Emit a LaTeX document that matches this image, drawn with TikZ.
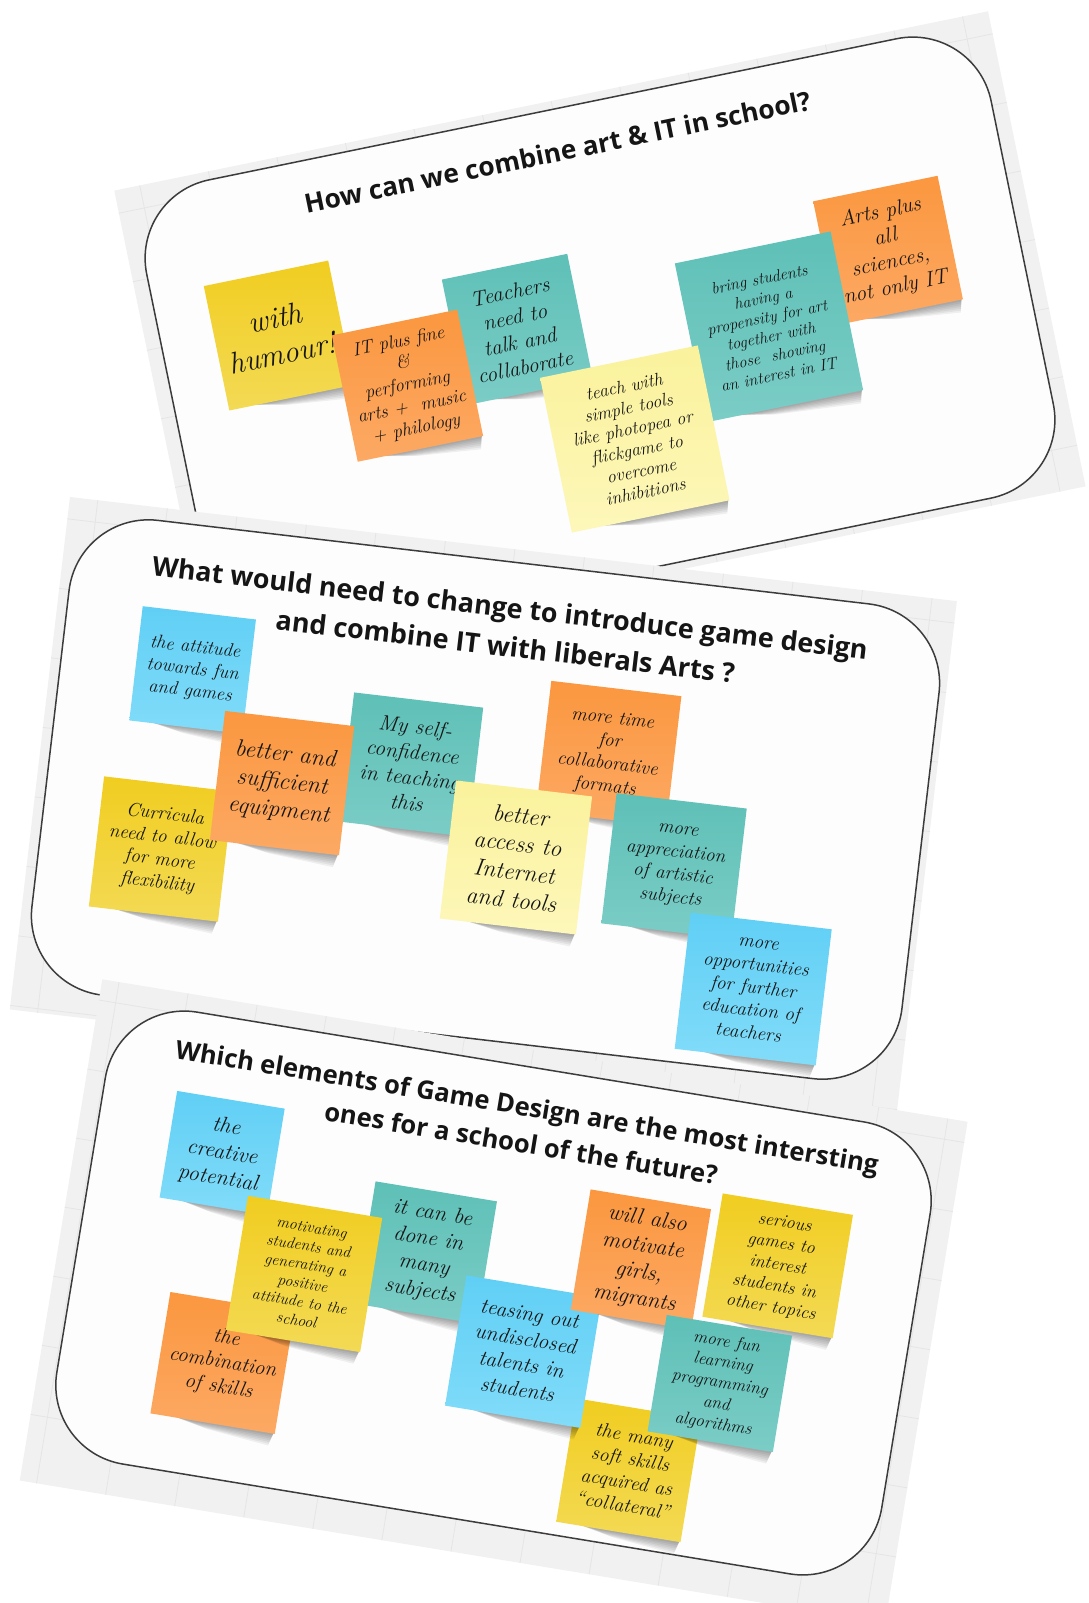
\documentclass[tikz,border=0pt]{standalone}
\usepackage{fontspec}
\usepackage{graphicx}
\newfontfamily\titlefont{Open Sans}

\definecolor{sheetgray}{HTML}{F1F1F1}
\definecolor{gridgray}{HTML}{E5E5E5}
\definecolor{boardfill}{HTML}{FDFDFD}
\definecolor{boardline}{HTML}{3C3C3C}
\definecolor{inkcol}{HTML}{151515}
\definecolor{yelA}{HTML}{F1CD20}
\definecolor{yelB}{HTML}{F3DA55}
\definecolor{orgA}{HTML}{FB973F}
\definecolor{orgB}{HTML}{FCA964}
\definecolor{tealA}{HTML}{5EC0B7}
\definecolor{tealB}{HTML}{7BCDC6}
\definecolor{bluA}{HTML}{60CFF5}
\definecolor{bluB}{HTML}{82DCF9}
\definecolor{lyelA}{HTML}{FAF29B}
\definecolor{lyelB}{HTML}{FDF7BA}

% handwriting-like note text (size given in px of the sheet)
\newcommand\notefont[1]{\fontsize{\fpeval{1.13*#1}}{\fpeval{1.34*#1}}\selectfont\itshape\addfontfeatures{FakeBold=0.6}}

% soft shadow under the lower edge of a note: u v w h
\newcommand\noteshadow[4]{%
  \foreach \k in {1,...,7}{%
    \fill[black, opacity=0.055]
      ({#1-0.32*#3},{#2+0.5*#4-1}) --
      ({#1+0.5*#3-1},{#2+0.5*#4-1}) --
      ({#1+0.5*#3-2-0.4*\k},{#2+0.5*#4+1.8*\k}) --
      ({#1-0.2*#3+3*\k},{#2+0.5*#4+0.9*\k}) -- cycle;
  }%
}

% sticky note: name, u, v, width, height, pad style, font size, text
\newcommand\sticky[8]{%
  \noteshadow{#2}{#3}{#4}{#5}%
  \node[notebox, #6, minimum width=#4pt, minimum height=#5pt,
        font=\notefont{#7}] (#1) at (#2,#3) {#8};%
}

\begin{document}
\begin{tikzpicture}[x=1pt, y=-1pt,
  notebox/.style={rectangle, inner sep=0pt, align=center, text=inkcol},
  yellowpad/.style={top color=yelA, bottom color=yelB},
  orangepad/.style={top color=orgA, bottom color=orgB},
  tealpad/.style={top color=tealA, bottom color=tealB},
  bluepad/.style={top color=bluA, bottom color=bluB},
  paleyellowpad/.style={top color=lyelA, bottom color=lyelB},
  boardframe/.style={fill=boardfill, draw=boardline, line width=1.5pt, rounded corners=80pt},
  sheetgrid/.style={draw=gridgray, line width=0.8pt},
  titletext/.style={text=inkcol, align=center, inner sep=0pt}]

\useasboundingbox (0,0) rectangle (1088,1603);
\fill[white] (0,0) rectangle (1088,1603);

% ---------- board 1 ----------
\begin{scope}[shift={(600,339)}, rotate=11.6, transform shape]
  \fill[sheetgray] (-446,-243) rectangle (446,242);
  \foreach \g in {-420,-350,...,420} \draw[sheetgrid] (\g,-243) -- (\g,242);
  \foreach \g in {-220,-150,...,200} \draw[sheetgrid] (-446,\g) -- (446,\g);
  \draw[boardframe] (-431,-234.5) rectangle (431,234.5);
  \node[titletext, font=\titlefont\bfseries\fontsize{24}{30}\selectfont] (title1) at (-4,-192)
    {\resizebox{516pt}{!}{How can we combine art \& IT in school?}};
  \sticky{p1humour}{-314}{-68}{127}{127}{yellowpad}{27}{with\\humour!}
  \sticky{p1teachers}{-79}{-26}{128}{128}{tealpad}{19}{Teachers\\need to\\talk and\\collaborate}
  \sticky{p1itplus}{-198}{7}{128}{129}{orangepad}{16.5}{IT plus fine\\\&\\performing\\arts + \ music\\+ philology}
  \sticky{p1arts}{300}{-29}{127}{126}{orangepad}{19}{Arts plus\\all\\sciences,\\not only IT}
  \sticky{p1bring}{168}{22}{159}{162}{tealpad}{14.5}{bring students\\having a\\propensity for art\\together with\\those \ showing\\an interest in IT}
  \sticky{p1teach}{14}{105}{161}{158}{paleyellowpad}{16}{teach with\\simple tools\\like photopea or\\flickgame to\\overcome\\inhibitions}
\end{scope}

% ---------- board 2 ----------
\begin{scope}[shift={(485.5,799.5)}, rotate=-6.7, transform shape]
  \fill[sheetgray] (-448,-252) rectangle (445,264);
  \foreach \g in {-420,-350,...,420} \draw[sheetgrid] (\g,-252) -- (\g,264);
  \foreach \g in {-230,-160,...,260} \draw[sheetgrid] (-448,\g) -- (445,\g);
  \draw[boardframe] (-438,-239) rectangle (438,239);
  \node[titletext, font=\titlefont\bfseries\fontsize{26}{39}\selectfont] (title2) at (2,-174)
    {\resizebox{720pt}{!}{What would need to change to introduce game design}\\
     \resizebox{462pt}{!}{and combine IT with liberals Arts ?}};
  \sticky{p2attitude}{-306}{-94.5}{114}{115}{bluepad}{16.5}{the attitude\\towards fun\\and games}
  \sticky{p2curricula}{-316.5}{87}{130}{131}{yellowpad}{17}{Curricula\\need to allow\\for more\\flexibility}
  \sticky{p2selfconf}{-78}{-26}{130}{130}{tealpad}{19}{My self-\\confidence\\in teaching\\this}
  \sticky{p2equip}{-204}{7.4}{130}{130}{orangepad}{21}{better and\\sufficient\\equipment}
  \sticky{p2time}{117}{-60}{131}{131}{orangepad}{17}{more time\\for\\collaborative\\formats}
  \sticky{p2access}{37}{54}{137}{139}{paleyellowpad}{21}{better\\access to\\Internet\\and tools}
  \sticky{p2appreciation}{195}{44}{131}{131}{tealpad}{17}{more\\appreciation\\of artistic\\subjects}
  \sticky{p2education}{288}{157}{142}{137}{bluepad}{17}{more\\opportunities\\for further\\education of\\teachers}
\end{scope}

% ---------- board 3 ----------
\begin{scope}[shift={(493.5,1293)}, rotate=-9.35, transform shape]
  \fill[sheetgray] (-437,-246) rectangle (440,262);
  \foreach \g in {-420,-350,...,420} \draw[sheetgrid] (\g,-246) -- (\g,262);
  \foreach \g in {-225,-155,...,255} \draw[sheetgrid] (-437,\g) -- (440,\g);
  \draw[boardframe] (-418,-229) rectangle (418,229);
  \node[titletext, font=\titlefont\bfseries\fontsize{26}{37}\selectfont] (title3) at (3,-171)
    {\resizebox{712pt}{!}{Which elements of Game Design are the most intersting}\\
     \resizebox{398pt}{!}{ones for a school of the future?}};
  \sticky{p3creative}{-290.5}{-94}{109}{108}{bluepad}{19.5}{the\\creative\\potential}
  \sticky{p3combination}{-256}{113}{126}{123}{orangepad}{18.5}{the\\combination\\of skills}
  \sticky{p3subjects}{-73}{-29}{123}{124}{tealpad}{19.5}{it can be\\done in\\many\\subjects}
  \sticky{p3motivating}{-190}{12}{136}{136}{yellowpad}{14}{motivating\\students and\\generating a\\positive\\attitude to the\\school}
  \sticky{p3serious}{276}{-73}{132}{125}{yellowpad}{16}{serious\\games to\\interest\\students in\\other topics}
  \sticky{p3softskills}{162}{153}{126}{125}{yellowpad}{17.5}{the many\\soft skills\\acquired as\\``collateral''}
  \sticky{p3teasing}{39}{53}{137}{132}{bluepad}{19}{teasing out\\undisclosed\\talents in\\students}
  \sticky{p3girls}{140}{-57}{122}{122}{orangepad}{20}{will also\\motivate\\girls,\\migrants}
  \sticky{p3fun}{238}{52.5}{127}{118}{tealpad}{15.5}{more fun\\learning\\programming\\and\\algorithms}
\end{scope}

\end{tikzpicture}
\end{document}
